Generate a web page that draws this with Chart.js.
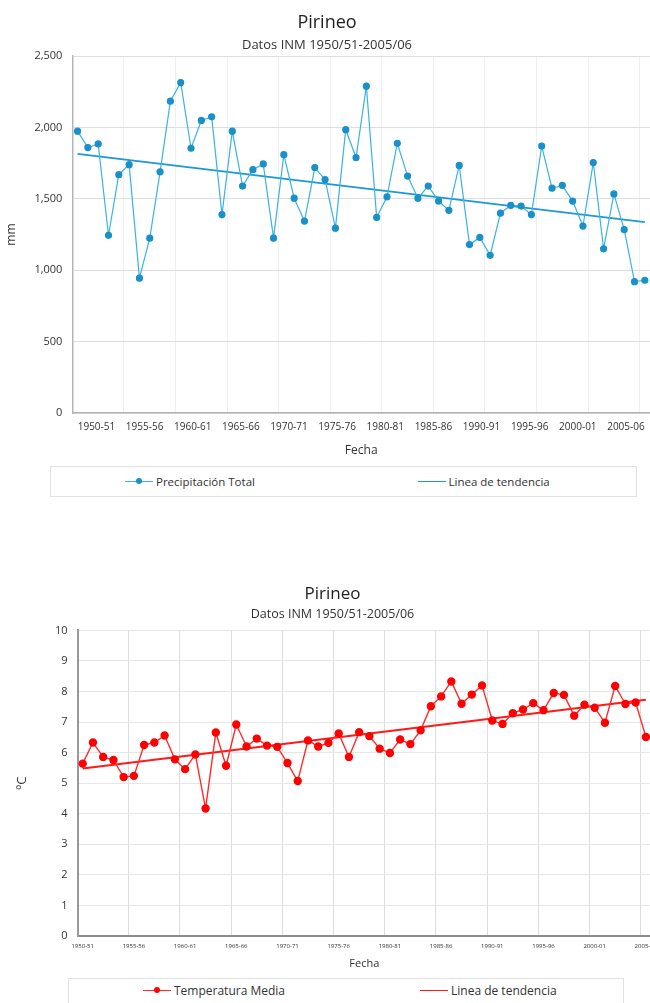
<!DOCTYPE html>
<html lang="es">
<head>
<meta charset="utf-8">
<title>Pirineo</title>
<script src="https://cdn.jsdelivr.net/npm/chart.js@4.4.1/dist/chart.umd.min.js"></script>
<style>
  html, body { margin: 0; padding: 0; background: #fff; }
  body { width: 650px; height: 1003px; overflow: hidden; position: relative; font-family: 'Open Sans', sans-serif; }
  .chart-box { position: absolute; left: 0; width: 674px; }
  #precipBox { top: 0; height: 458px; }
  #tempBox { top: 573px; height: 397px; }
  .legend { position: absolute; display: flex; align-items: flex-start; border: 1px solid #e2e2e2; box-sizing: border-box; color: #333; }
  #precipLegend { left: 50px; top: 466px; width: 587px; height: 31px; font-size: 11.5px; }
  #tempLegend { left: 68px; top: 978px; width: 556px; height: 40px; font-size: 12px; }
  .legend .item { flex: 1; display: flex; align-items: center; padding-left: 74px; height: 28px; }
  #tempLegend .item { height: 23px; }
  .legend .mark { position: relative; width: 28px; height: 0; border-top: 1.5px solid; margin-right: 3px; }
  .legend .dot { position: absolute; left: 50%; top: -4px; width: 6px; height: 6px; margin-left: -3px; border-radius: 50%; }
</style>
</head>
<body>
<div class="chart-box" id="precipBox"><canvas id="precipChart"></canvas></div>
<div class="legend" id="precipLegend"></div>
<div class="chart-box" id="tempBox"><canvas id="tempChart"></canvas></div>
<div class="legend" id="tempLegend"></div>

<script>
// Categories (años hidrológicos)
const years = [
  '1950-51', '1951-52', '1952-53', '1953-54', '1954-55', '1955-56', '1956-57', '1957-58',
  '1958-59', '1959-60', '1960-61', '1961-62', '1962-63', '1963-64', '1964-65', '1965-66',
  '1966-67', '1967-68', '1968-69', '1969-70', '1970-71', '1971-72', '1972-73', '1973-74',
  '1974-75', '1975-76', '1976-77', '1977-78', '1978-79', '1979-80', '1980-81', '1981-82',
  '1982-83', '1983-84', '1984-85', '1985-86', '1986-87', '1987-88', '1988-89', '1989-90',
  '1990-91', '1991-92', '1992-93', '1993-94', '1994-95', '1995-96', '1996-97', '1997-98',
  '1998-99', '1999-00', '2000-01', '2001-02', '2002-03', '2003-04', '2004-05', '2005-06'
];

// x tick labels (one every 5 years)
const tickYears = [
  '1950-51', '1955-56', '1960-61', '1965-66', '1970-71', '1975-76',
  '1980-81', '1985-86', '1990-91', '1995-96', '2000-01', '2005-06'
];

// Precipitación total (mm)
const precipTotal = [
  1975, 1860, 1885, 1245, 1670, 1740, 945, 1225, 1690, 2185,
  2315, 1855, 2050, 2075, 1390, 1975, 1590, 1705, 1745, 1225,
  1810, 1505, 1345, 1720, 1635, 1295, 1985, 1790, 2290, 1370,
  1515, 1890, 1660, 1505, 1590, 1485, 1420, 1735, 1180, 1230,
  1105, 1400, 1455, 1450, 1390, 1870, 1575, 1595, 1485, 1310,
  1755, 1150, 1535, 1285, 920, 930
];

// Temperatura media (ºC)
const tempMedia = [
  5.64, 6.33, 5.86, 5.76, 5.20, 5.24, 6.25, 6.33, 6.56, 5.78,
  5.46, 5.94, 4.17, 6.66, 5.57, 6.92, 6.20, 6.46, 6.23, 6.19,
  5.66, 5.07, 6.40, 6.20, 6.32, 6.63, 5.86, 6.67, 6.54, 6.13,
  5.99, 6.43, 6.28, 6.73, 7.52, 7.84, 8.33, 7.60, 7.90, 8.20,
  7.05, 6.94, 7.29, 7.41, 7.62, 7.39, 7.95, 7.89, 7.21, 7.57,
  7.47, 6.98, 8.18, 7.59, 7.64, 6.51
];

// Linea de tendencia: end points
const trendYears = ['1950-51', '2005-06'];
const precipTrend = [1815, 1338];
const tempTrend = [5.48, 7.73];

// Y axis ticks
const precipTicks = [0, 500, 1000, 1500, 2000, 2500];
const tempTicks = [0, 1, 2, 3, 4, 5, 6, 7, 8, 9, 10];

Chart.defaults.font.family = "'Open Sans', sans-serif";
Chart.defaults.color = '#333';

function trendPoints(values) {
  return trendYears.map((y, i) => ({ x: y, y: values[i] }));
}

// every 5th category gets a label / vertical grid line
function fiveLabel(value, index) {
  return index % 5 === 0 ? years[index] : '';
}
function fiveGrid(color) {
  return ctx => ctx.index % 5 === 0 ? color : 'transparent';
}

function buildLegend(chart, el) {
  chart.data.datasets.forEach(ds => {
    const item = document.createElement('div');
    item.className = 'item';
    const mark = document.createElement('span');
    mark.className = 'mark';
    mark.style.borderTopColor = ds.borderColor;
    if (ds.pointRadius > 0) {
      const dot = document.createElement('span');
      dot.className = 'dot';
      dot.style.background = ds.pointBackgroundColor;
      mark.appendChild(dot);
    }
    const txt = document.createElement('span');
    txt.textContent = ds.label;
    item.append(mark, txt);
    el.appendChild(item);
  });
}

// Precipitación
const precipChart = new Chart(document.getElementById('precipChart'), {
  type: 'line',
  data: {
    labels: years,
    datasets: [
      {
        label: 'Precipitación Total',
        data: precipTotal,
        borderColor: '#3bb2e2',
        borderWidth: 1.2,
        pointRadius: 3,
        pointBackgroundColor: '#1a90c9',
        pointBorderColor: '#1a90c9',
        tension: 0
      },
      {
        label: 'Linea de tendencia',
        data: trendPoints(precipTrend),
        borderColor: '#1c98d4',
        borderWidth: 1.8,
        pointRadius: 0
      }
    ]
  },
  options: {
    responsive: true,
    maintainAspectRatio: false,
    animation: false,
    layout: { padding: { left: 4, right: 24, top: 0, bottom: 0 } },
    plugins: {
      legend: { display: false },
      tooltip: { enabled: false },
      title: {
        display: true, text: 'Pirineo', color: '#222',
        font: { size: 18, weight: 'normal' }, padding: { top: 12, bottom: 0 }
      },
      subtitle: {
        display: true, text: 'Datos INM 1950/51-2005/06', color: '#333',
        font: { size: 13 }, padding: { top: 3.5, bottom: 3.5 }
      }
    },
    scales: {
      x: {
        offset: true,
        grid: { offset: true, drawTicks: false, color: fiveGrid('#f0f0f0') },
        border: { color: '#b5b5b5', width: 1.5 },
        ticks: { display: false, autoSkip: false }
      },
      xLabels: {
        type: 'category',
        labels: tickYears,
        position: 'bottom',
        offset: true,
        grid: { display: false, drawTicks: false },
        border: { display: false },
        ticks: { autoSkip: false, maxRotation: 0, padding: 8, font: { size: 10 } },
        title: { display: true, text: 'Fecha', font: { size: 12 }, padding: { top: 2.6, bottom: 0 } }
      },
      y: {
        min: precipTicks[0],
        max: precipTicks[precipTicks.length - 1],
        grid: { color: '#dedede', drawTicks: false },
        border: { color: '#b5b5b5', width: 1.5 },
        ticks: {
          stepSize: precipTicks[1] - precipTicks[0], padding: 10, font: { size: 11 },
          callback: v => v.toLocaleString('en-US')
        },
        title: { display: true, text: 'mm', font: { size: 12 }, padding: { top: 0, bottom: 6 } }
      }
    }
  }
});
buildLegend(precipChart, document.getElementById('precipLegend'));

// Temperatura
const tempChart = new Chart(document.getElementById('tempChart'), {
  type: 'line',
  data: {
    labels: years,
    datasets: [
      {
        label: 'Temperatura Media',
        data: tempMedia,
        borderColor: '#ff2a2a',
        borderWidth: 1.4,
        pointRadius: 3.5,
        pointBackgroundColor: '#ff0000',
        pointBorderColor: '#ff0000',
        tension: 0
      },
      {
        label: 'Linea de tendencia',
        data: trendPoints(tempTrend),
        borderColor: '#ff1a1a',
        borderWidth: 2,
        pointRadius: 0
      }
    ]
  },
  options: {
    responsive: true,
    maintainAspectRatio: false,
    animation: false,
    layout: { padding: { left: 14, right: 23, top: 0, bottom: 0 } },
    plugins: {
      legend: { display: false },
      tooltip: { enabled: false },
      title: {
        display: true, text: 'Pirineo', color: '#222',
        font: { size: 17, weight: 'normal' }, padding: { top: 11, bottom: 0 }
      },
      subtitle: {
        display: true, text: 'Datos INM 1950/51-2005/06', color: '#333',
        font: { size: 12.5 }, padding: { top: 3, bottom: 8 }
      }
    },
    scales: {
      x: {
        offset: true,
        grid: { offset: true, drawTicks: false, color: fiveGrid('#dddddd') },
        border: { color: '#8c8c8c', width: 2 },
        ticks: { autoSkip: false, maxRotation: 0, padding: 6.4, font: { size: 6 }, callback: fiveLabel },
        title: { display: true, text: 'Fecha', font: { size: 11 }, padding: { top: 0.8, bottom: 0 } }
      },
      y: {
        min: tempTicks[0],
        max: tempTicks[tempTicks.length - 1],
        grid: { color: '#e6e6e6', drawTicks: false },
        border: { color: '#9a9a9a', width: 2 },
        ticks: { stepSize: tempTicks[1] - tempTicks[0], padding: 10, font: { size: 11 } },
        title: { display: true, text: 'ºC', font: { size: 13 }, padding: { top: 0, bottom: 15.4 } }
      }
    }
  }
});
buildLegend(tempChart, document.getElementById('tempLegend'));
</script>
</body>
</html>
